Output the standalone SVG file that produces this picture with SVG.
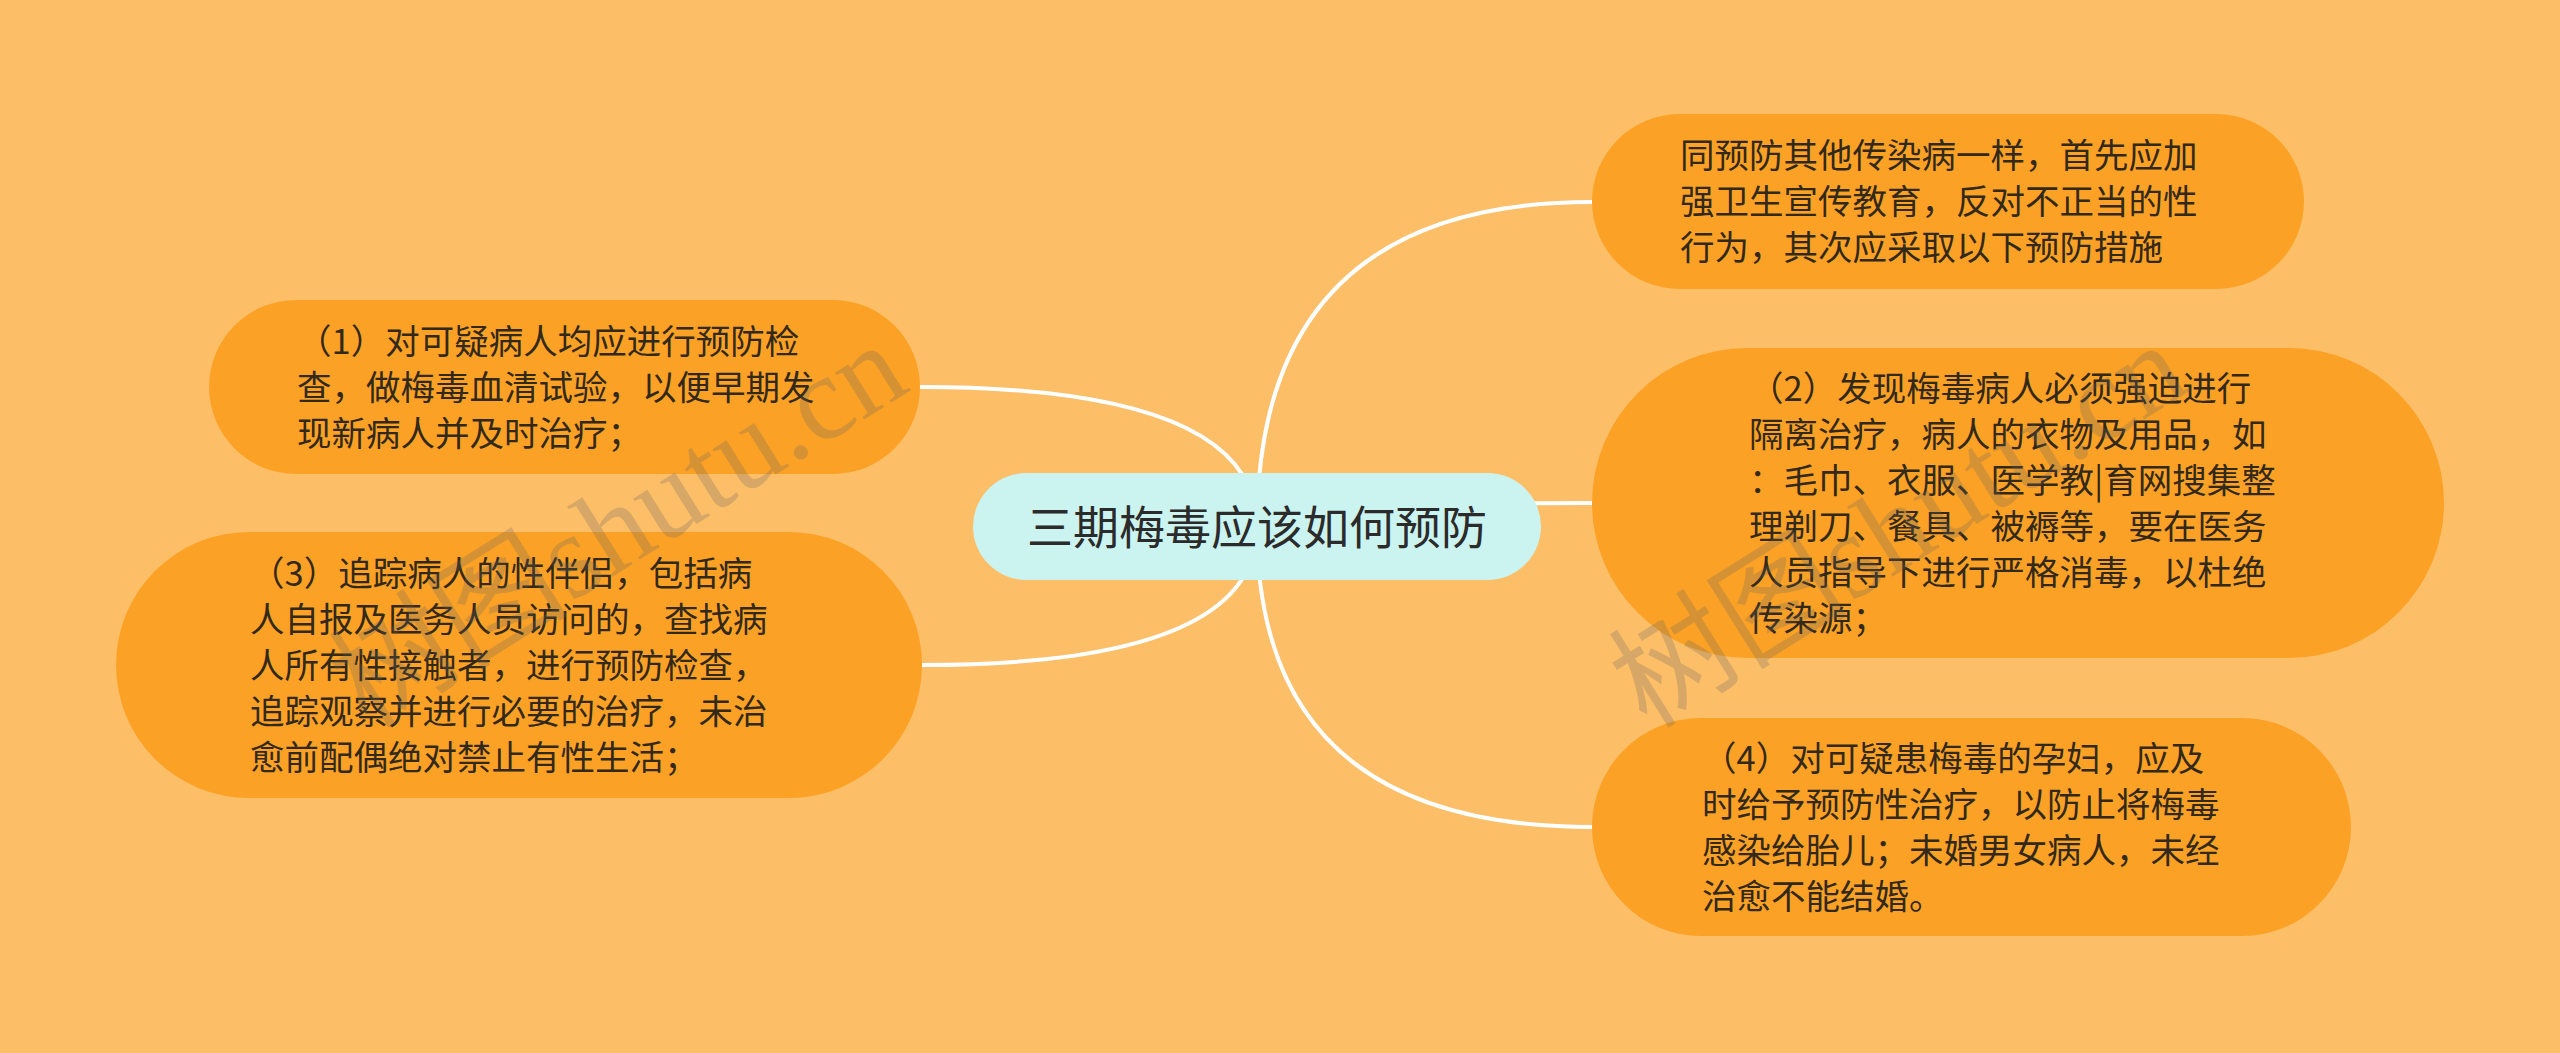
<svg xmlns="http://www.w3.org/2000/svg" width="2560" height="1053" viewBox="0 0 2560 1053">
<style>
.bg{fill:#fdbe68}
.node{fill:#fba226}
.root{fill:#cbf3ef}
.t{font-family:"Noto Sans CJK SC","Noto Sans",sans-serif;font-size:34.5px;fill:#33291a}
.rt{font-family:"Noto Sans CJK SC","Noto Sans",sans-serif;font-size:46px;fill:#2b2b2b}
.edge{fill:none;stroke:#ffffff;stroke-width:4}
.wm{font-family:"Liberation Serif","Noto Sans CJK SC",serif;font-size:120px;fill:#646464;fill-opacity:0.25}
</style>
<rect class="bg" x="0" y="0" width="2560" height="1053"/>
<g id="connectors">
<path class="edge" d="M1257 527 Q1257 387 920 387"/>
<path class="edge" d="M1257 527 Q1257 665 922 665"/>
<path class="edge" d="M1257 527 Q1257 202 1592 202"/>
<path class="edge" d="M1257 527 Q1257 503 1592 503"/>
<path class="edge" d="M1257 527 Q1257 827 1592 827"/>
</g>
<g id="root">
<rect class="root" x="973" y="473" width="568" height="107" rx="53.5"/>
<text class="rt" x="1257" y="544" text-anchor="middle">三期梅毒应该如何预防</text>
</g>
<g id="node-a">
<rect class="node" x="1592" y="114" width="712" height="175" rx="87.5"/>
<text class="t" x="1680" y="168">同预防其他传染病一样，首先应加</text>
<text class="t" x="1680" y="214">强卫生宣传教育，反对不正当的性</text>
<text class="t" x="1680" y="260">行为，其次应采取以下预防措施</text>
</g>
<g id="node-b">
<rect class="node" x="1592" y="348" width="852" height="310" rx="155"/>
<text class="t" x="1749" y="401">（2）发现梅毒病人必须强迫进行</text>
<text class="t" x="1749" y="447">隔离治疗，病人的衣物及用品，如</text>
<text class="t" x="1749" y="493">：毛巾、衣服、医学教|育网搜集整</text>
<text class="t" x="1749" y="539">理剃刀、餐具、被褥等，要在医务</text>
<text class="t" x="1749" y="585">人员指导下进行严格消毒，以杜绝</text>
<text class="t" x="1749" y="631">传染源；</text>
</g>
<g id="node-c">
<rect class="node" x="1592" y="718" width="759" height="218" rx="109"/>
<text class="t" x="1702" y="771">（4）对可疑患梅毒的孕妇，应及</text>
<text class="t" x="1702" y="817">时给予预防性治疗，以防止将梅毒</text>
<text class="t" x="1702" y="863">感染给胎儿；未婚男女病人，未经</text>
<text class="t" x="1702" y="909">治愈不能结婚。</text>
</g>
<g id="node-d">
<rect class="node" x="209" y="300" width="711" height="174" rx="87"/>
<text class="t" x="297" y="354">（1）对可疑病人均应进行预防检</text>
<text class="t" x="297" y="400">查，做梅毒血清试验，以便早期发</text>
<text class="t" x="297" y="446">现新病人并及时治疗；</text>
</g>
<g id="node-e">
<rect class="node" x="116" y="532" width="806" height="266" rx="133"/>
<text class="t" x="250" y="586">（3）追踪病人的性伴侣，包括病</text>
<text class="t" x="250" y="632">人自报及医务人员访问的，查找病</text>
<text class="t" x="250" y="678">人所有性接触者，进行预防检查，</text>
<text class="t" x="250" y="724">追踪观察并进行必要的治疗，未治</text>
<text class="t" x="250" y="770">愈前配偶绝对禁止有性生活；</text>
</g>
<g id="watermark">
<text class="wm" transform="translate(367 730) rotate(-32)">树图shutu.cn</text>
<text class="wm" transform="translate(1647 730) rotate(-32)">树图shutu.cn</text>
</g>
</svg>
